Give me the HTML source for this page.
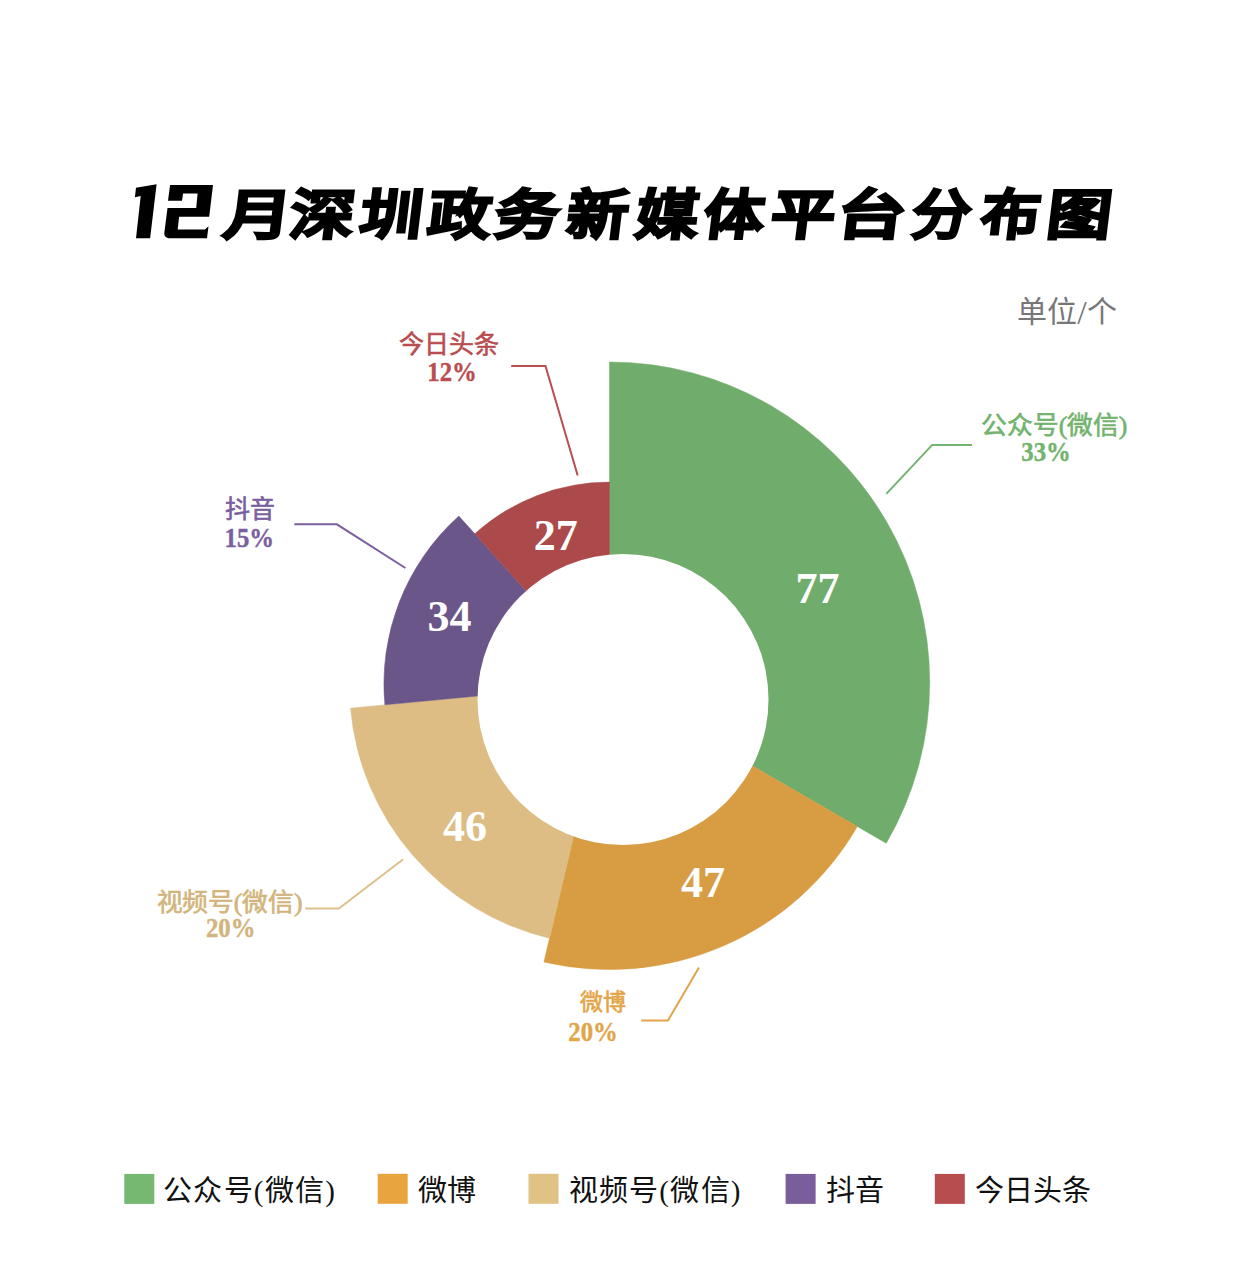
<!DOCTYPE html>
<html lang="zh-CN">
<head>
<meta charset="utf-8">
<style>
html,body{margin:0;padding:0;background:#fff;}
body{width:1241px;height:1276px;position:relative;overflow:hidden;font-family:"Liberation Serif",serif;}
svg{position:absolute;left:0;top:0;}
#title{position:absolute;left:0;top:0;width:1241px;height:300px;}
.tc{position:absolute;top:188px;font-family:"Liberation Sans",sans-serif;font-weight:bold;font-size:54px;line-height:1;color:#000;transform-origin:0 100%;-webkit-text-stroke:2.5px #000;}
</style>
</head>
<body>
<div id="title"><svg width="1241" height="300"><g fill="#000"><polygon points="156.6,184.2 136.0,187.8 134.9,197.2 140.7,196.1 136.0,238.2 150.1,238.2"/><path d="M170.1 185.0L213.0 185.0L209.2 216.8L179.1 216.8L177.7 229.5L204.9 229.5L208.5 226.2L207.0 238.2L168.6 238.2Q164.0 237.5 164.3 233.1L167.5 208.1L196.2 208.1L197.6 193.6L183.1 193.6L182.0 200.8L168.0 200.8Z"/></g></svg><div class="tc" style="left:221.0px;transform:skewX(-7deg) scaleX(1.248)">月</div><div class="tc" style="left:286.6px;transform:skewX(-7deg) scaleX(1.19)">深</div><div class="tc" style="left:357.0px;transform:skewX(-7deg) scaleX(1.16)">圳</div><div class="tc" style="left:425.0px;transform:skewX(-7deg) scaleX(1.17)">政</div><div class="tc" style="left:492.0px;transform:skewX(-7deg) scaleX(1.187)">务</div><div class="tc" style="left:564.0px;transform:skewX(-7deg) scaleX(1.133)">新</div><div class="tc" style="left:632.6px;transform:skewX(-7deg) scaleX(1.155)">媒</div><div class="tc" style="left:700.5px;transform:skewX(-7deg) scaleX(1.11)">体</div><div class="tc" style="left:768.4px;transform:skewX(-7deg) scaleX(1.184)">平</div><div class="tc" style="left:833.7px;transform:skewX(-7deg) scaleX(1.276)">台</div><div class="tc" style="left:909.0px;transform:skewX(-7deg) scaleX(1.089)">分</div><div class="tc" style="left:977.7px;transform:skewX(-7deg) scaleX(1.098)">布</div><div class="tc" style="left:1043.6px;transform:skewX(-7deg) scaleX(1.197)">图</div></div>
<svg width="1241" height="1276" viewBox="0 0 1241 1276" style="top:0">
  <path d="M609.5 683.4L609.50 362.00A320.2 320.2 0 0 1 886.28 843.20Z" fill="#70AC6B" stroke="#70AC6B" stroke-width="0.5"/><path d="M609.5 683.4L857.36 826.50A286.2 286.2 0 0 1 543.92 961.98Z" fill="#D89D43" stroke="#D89D43" stroke-width="0.5"/><path d="M609.5 683.4L549.50 938.28A260 260 0 0 1 350.51 708.16Z" fill="#DDBD84" stroke="#DDBD84" stroke-width="0.5"/><path d="M609.5 683.4L384.87 704.87A225.6 225.6 0 0 1 458.84 516.08Z" fill="#6A5689" stroke="#6A5689" stroke-width="0.5"/><path d="M609.5 683.4L474.80 533.80A201.3 201.3 0 0 1 609.50 482.10Z" fill="#AC4A4B" stroke="#AC4A4B" stroke-width="0.5"/>
  <circle cx="623" cy="699.5" r="145.5" fill="#fff"/>
  <g fill="none" stroke-width="2">
    <polyline points="511.2,365.9 545.5,365.9 577.7,475.5" stroke="#B84E50"/>
    <polyline points="294.3,524.3 336.9,524.3 405.4,568" stroke="#7A609E"/>
    <polyline points="886.3,493.9 932.2,444.9 972.1,444.9" stroke="#73B36F"/>
    <polyline points="305.3,908.6 338.9,908.6 403.2,859.3" stroke="#DEC08A"/>
    <polyline points="641.2,1020.4 668,1020.4 699,967.5" stroke="#E2A547"/>
  </g>
  <g font-family="Liberation Serif, serif" font-weight="bold" font-size="44" fill="#fff" text-anchor="middle">
    <text x="817.5" y="602.6">77</text><text x="703" y="896.6">47</text><text x="465" y="840.8">46</text><text x="449.5" y="630.8">34</text><text x="555.7" y="549.8">27</text>
  </g>
  <g font-family="Liberation Serif, serif" text-anchor="middle">
    <text x="449.4" y="353.2" fill="#B84E50" font-size="25" font-weight="normal" stroke="#B84E50" stroke-width="0.6">今日头条</text>
    <text transform="translate(452,380.9) scale(0.9,1)" x="0" y="0" fill="#B84E50" font-size="27.5" font-weight="bold" stroke="#B84E50" stroke-width="0.4">12%</text>
    <text x="250.4" y="518.3" fill="#7A609E" font-size="25" font-weight="normal" stroke="#7A609E" stroke-width="0.6">抖音</text>
    <text transform="translate(249.3,546.8) scale(0.9,1)" x="0" y="0" fill="#7A609E" font-size="27.5" font-weight="bold" stroke="#7A609E" stroke-width="0.4">15%</text>
    <text x="1054.4" y="434" fill="#73B36F" font-size="25" font-weight="normal" textLength="146" lengthAdjust="spacingAndGlyphs" stroke="#73B36F" stroke-width="0.6">公众号(微信)</text>
    <text transform="translate(1046,461) scale(0.9,1)" x="0" y="0" fill="#73B36F" font-size="27.5" font-weight="bold" stroke="#73B36F" stroke-width="0.4">33%</text>
    <text x="229.5" y="911" fill="#D2B47C" font-size="25" font-weight="normal" textLength="146" lengthAdjust="spacingAndGlyphs" stroke="#D2B47C" stroke-width="0.6">视频号(微信)</text>
    <text transform="translate(230.7,936.6) scale(0.9,1)" x="0" y="0" fill="#D2B47C" font-size="27.5" font-weight="bold" stroke="#D2B47C" stroke-width="0.4">20%</text>
    <text x="603.1" y="1009.5" fill="#E2A547" font-size="23" font-weight="normal" stroke="#E2A547" stroke-width="0.6">微博</text>
    <text transform="translate(593,1040.7) scale(0.9,1)" x="0" y="0" fill="#E2A547" font-size="27.5" font-weight="bold" stroke="#E2A547" stroke-width="0.4">20%</text>
  </g>
  <text x="1067" y="322" font-family="Liberation Serif, serif" font-size="30" fill="#777" text-anchor="middle">单位<tspan font-size="34" dy="2">/</tspan><tspan dy="-2">个</tspan></text>
  <g font-family="Liberation Serif, serif" font-size="29" fill="#111">
    <rect x="124.3" y="1173.9" width="30" height="30" fill="#76B872"/><text x="163" y="1201" textLength="172" lengthAdjust="spacing">公众号(微信)</text>
    <rect x="377.7" y="1173.8" width="30" height="30" fill="#E8A43E"/><text x="417.5" y="1201">微博</text>
    <rect x="528.5" y="1173.8" width="30" height="30" fill="#E0C284"/><text x="568.5" y="1201" textLength="172" lengthAdjust="spacing">视频号(微信)</text>
    <rect x="785.6" y="1173.9" width="30" height="30" fill="#7A5E9C"/><text x="826" y="1201">抖音</text>
    <rect x="934.8" y="1173.9" width="30" height="30" fill="#B84D4F"/><text x="974.5" y="1201">今日头条</text>
  </g>
</svg>
</body>
</html>
